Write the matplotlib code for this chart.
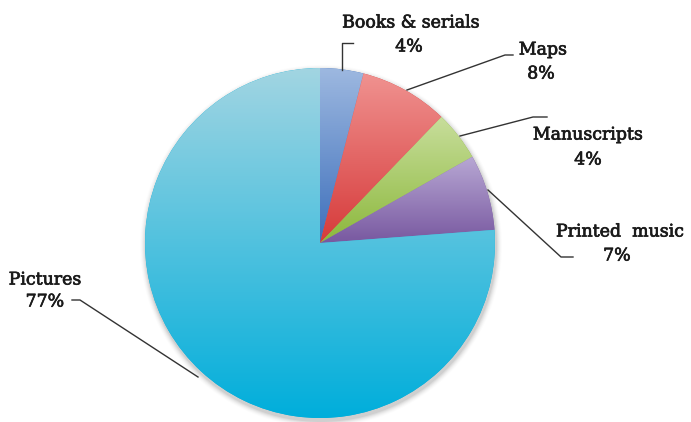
import numpy as np
import matplotlib
matplotlib.use("Agg")
import matplotlib.pyplot as plt
import matplotlib.patheffects as pe
from matplotlib.colors import LinearSegmentedColormap
from matplotlib.patches import Circle

categories = ["Books & serials", "Maps", "Manuscripts", "Printed  music", "Pictures"]
values = [4.0, 8.2, 4.6, 7.0, 76.2]
pct_labels = ["4%", "8%", "4%", "7%", "77%"]
top_colors = ["#9db8e0", "#f09290", "#c8de9c", "#b8a8d4", "#a2d5e2"]
bottom_colors = ["#3d6fbb", "#d63a3a", "#8cb83c", "#7858a0", "#00aedb"]

W, H = 691, 422
fig = plt.figure(figsize=(W / 100, H / 100), dpi=100)
ax = fig.add_axes([0, 0, 1, 1])
ax.set_xlim(0, W)
ax.set_ylim(0, H)
ax.set_aspect("equal")
ax.axis("off")

cx, cy, R = 320, 422 - 243, 175

# soft shadow
for i, a in enumerate(np.linspace(0.05, 0.01, 6)):
    ax.add_patch(Circle((cx + 1, cy - 3), R + 1 + i, facecolor="#000000", alpha=a, edgecolor="none", zorder=0))

wedges, _ = ax.pie(values, startangle=90, counterclock=False, center=(cx, cy), radius=R,
                   colors=bottom_colors, wedgeprops=dict(edgecolor="none"), frame=True)
ax.set_xlim(0, W)
ax.set_ylim(0, H)
ax.axis("off")

for w, ct, cb in zip(wedges, top_colors, bottom_colors):
    t1, t2 = np.deg2rad(w.theta1), np.deg2rad(w.theta2)
    th = np.linspace(t1, t2, 200)
    xs = np.concatenate([[cx], cx + R * np.cos(th)])
    ys = np.concatenate([[cy], cy + R * np.sin(th)])
    cmap = LinearSegmentedColormap.from_list("g", [cb, ct])
    grad = np.linspace(0, 1, 256).reshape(-1, 1)
    im = ax.imshow(grad, cmap=cmap, origin="lower", aspect="auto",
                   extent=(xs.min(), xs.max(), ys.min(), ys.max()), zorder=2)
    im.set_clip_path(w)
ax.set_xlim(0, W)
ax.set_ylim(0, H)

font = dict(family="DejaVu Serif", fontsize=12.5, color="#1a1a1a", ha="center", va="center",
            path_effects=[pe.withStroke(linewidth=0.5, foreground="#1a1a1a")])

def Y(y):
    return H - y

label_pos = [(411, 23, 409, 47), (543, 50, 541, 74), (588, 135, 588, 160),
             (620, 232, 617, 256), (45, 280, 45, 302)]
for (lx, ly, px, py), name, pct in zip(label_pos, categories, pct_labels):
    ax.text(lx, Y(ly), name, **font)
    ax.text(px, Y(py), pct, **font)

leaders = [
    [(342, 70), (342, 43), (353, 43)],
    [(407, 90), (505, 55), (513, 55)],
    [(460, 136), (533, 117), (547, 117)],
    [(488, 190), (561, 257), (573, 257)],
    [(198, 377), (80, 300), (72, 300)],
]
for pts in leaders:
    xs = [p[0] for p in pts]
    ys = [Y(p[1]) for p in pts]
    ax.plot(xs, ys, color="#333333", lw=1.0, zorder=3)

fig.savefig("out.png", dpi=100)
